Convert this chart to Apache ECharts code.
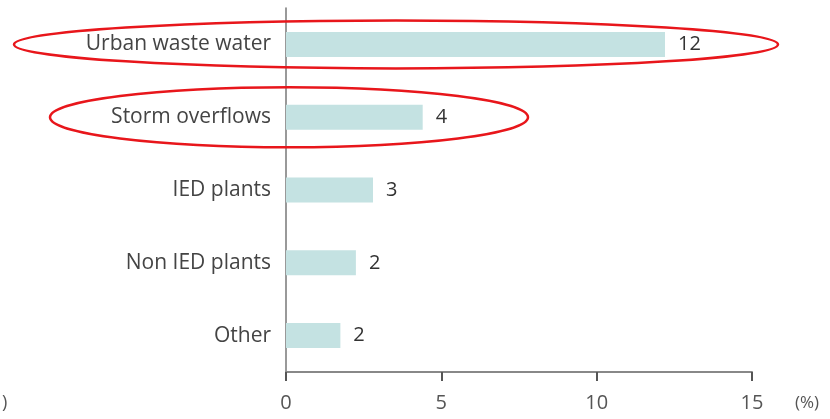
<!DOCTYPE html>
<html>
<head>
<meta charset="utf-8">
<script src="https://cdn.jsdelivr.net/npm/echarts@6/dist/echarts.min.js"></script>
<style>
  html, body { margin: 0; padding: 0; background: #fff; }
  #chart { width: 830px; height: 419px; }
</style>
</head>
<body>
<div id="chart"></div>
<script>
// categories top to bottom
var categories = ['Urban waste water', 'Storm overflows', 'IED plants', 'Non IED plants', 'Other'];
var values = [12.2, 4.4, 2.8, 2.25, 1.75];
var xTicks = [0, 5, 10, 15];
var unitLabel = '(%)';
// which rows are circled in red
var circled = [0, 1];

var myChart = echarts.init(document.getElementById('chart'));
var font = '"Open Sans", sans-serif';

var option = {
  animation: false,
  grid: { left: 286, right: 78, top: 8, bottom: 47 },
  xAxis: {
    type: 'value',
    min: xTicks[0], max: xTicks[xTicks.length - 1], interval: 5,
    axisLine: { show: true, lineStyle: { color: '#888', width: 2 } },
    axisTick: { show: true, length: 9, lineStyle: { color: '#555', width: 2 } },
    axisLabel: { color: '#555', fontFamily: font, fontSize: 20, margin: 21 },
    splitLine: { show: false }
  },
  yAxis: {
    type: 'category',
    inverse: true,
    data: categories,
    axisLine: { show: true, lineStyle: { color: '#777', width: 1.5 } },
    axisTick: { show: false },
    axisLabel: { color: '#444', fontFamily: font, fontSize: 21, margin: 15 }
  },
  series: [{
    type: 'bar',
    data: values,
    barWidth: 25,
    itemStyle: { color: '#c4e2e2' },
    label: {
      show: true, position: 'right', distance: 13,
      color: '#333', fontFamily: font, fontSize: 20,
      formatter: function (p) { return Math.round(p.value); }
    }
  }]
};
myChart.setOption(option);

// red annotation ellipses around circled rows
var ellipseSpan = [[14, 778], [50, 528]];
var ellipseRy = [24, 30];
var graphics = circled.map(function (idx, i) {
  var cy = myChart.convertToPixel({ yAxisIndex: 0 }, categories[idx]);
  var sp = ellipseSpan[i];
  return {
    type: 'ellipse',
    shape: { cx: (sp[0] + sp[1]) / 2, cy: cy, rx: (sp[1] - sp[0]) / 2, ry: ellipseRy[i] },
    style: { fill: 'none', stroke: '#e8161b', lineWidth: 2.5 },
    z: 100
  };
});
var endX = myChart.convertToPixel({ xAxisIndex: 0 }, xTicks[xTicks.length - 1]);
graphics.push({
  type: 'text', x: endX + 43, y: 403,
  style: { text: unitLabel, fill: '#555', font: '17px "Open Sans", sans-serif', verticalAlign: 'middle' }
});
graphics.push({
  type: 'text', x: 2, y: 403,
  style: { text: ')', fill: '#555', font: '18px "Open Sans", sans-serif', verticalAlign: 'middle' }
});
myChart.setOption({ graphic: graphics });

window.addEventListener('resize', function () { myChart.resize(); });
</script>
</body>
</html>
